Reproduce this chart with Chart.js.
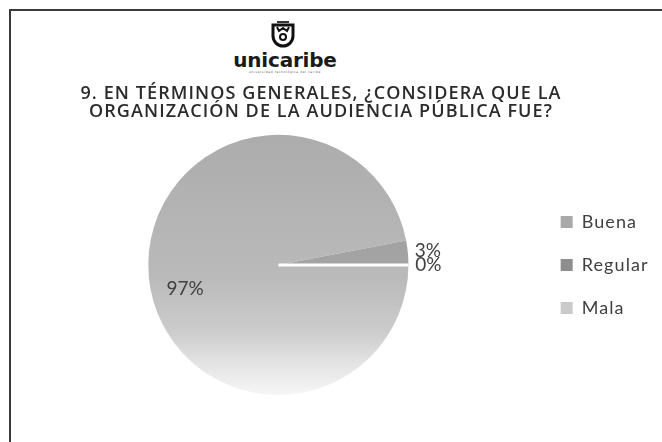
<!DOCTYPE html>
<html>
<head>
<meta charset="utf-8">
<script src="https://cdn.jsdelivr.net/npm/chart.js@4/dist/chart.umd.min.js"></script>
<style>
html,body{margin:0;padding:0;background:#fff;overflow:hidden;width:662px;height:442px;position:relative}
#frame{position:absolute;left:9px;top:9px;width:700px;height:500px;border:2px solid #3a3a3a;box-sizing:border-box}
#shield{position:absolute;left:270px;top:21px}
#brand{position:absolute;left:215px;top:50px;width:140px;text-align:center;font-family:"DejaVu Sans",sans-serif;font-weight:bold;font-size:20px;line-height:1;color:#1a1a1a;letter-spacing:-0.2px}
#brand .sub{display:block;font-size:3px;line-height:3px;letter-spacing:0.6px;color:#555;margin-top:1px;font-weight:normal}
#wrap{position:absolute;left:-9px;top:0;width:680px;height:442px}
</style>
</head>
<body>
<div id="frame"></div>
<svg id="shield" width="26" height="28" viewBox="0 0 26 28">
  <rect x="7" y="0" width="12" height="2" fill="#333"/>
  <path d="M3 4 H23 V15 A10 10 0 0 1 3 15 Z" fill="none" stroke="#111" stroke-width="3"/>
  <path d="M7 6 L9 10 L13 7 L17 10 L19 6" fill="none" stroke="#111" stroke-width="2"/>
  <circle cx="13" cy="16" r="3" fill="none" stroke="#111" stroke-width="2"/>
</svg>
<div id="brand">unicaribe<span class="sub">universidad tecnológica del caribe</span></div>
<div id="wrap"><canvas id="c" width="680" height="442"></canvas></div>
<script>
// ---- data ----
const categories = ['Buena', 'Regular', 'Mala'];
const values = [97, 3, 0];
const titleLines = ['9. EN TÉRMINOS GENERALES, ¿CONSIDERA QUE LA', 'ORGANIZACIÓN DE LA AUDIENCIA PÚBLICA FUE?'];
const legendColors = ['#a9a9a9', '#8e8e8e', '#cacaca'];

const total = values.reduce((a, b) => a + b, 0);

function sliceFill(ctx) {
  const chart = ctx.chart;
  const ca = chart.chartArea;
  const i = ctx.dataIndex;
  if (!ca) return legendColors[i];
  const g = chart.ctx.createLinearGradient(0, ca.top, 0, ca.bottom);
  if (i === 0) {
    g.addColorStop(0, '#acacac');
    g.addColorStop(0.55, '#bababa');
    g.addColorStop(0.75, '#cbcbcb');
    g.addColorStop(0.88, '#e4e4e4');
    g.addColorStop(1, '#f6f6f6');
  } else if (i === 1) {
    g.addColorStop(0, '#989898');
    g.addColorStop(1, '#b0b0b0');
  } else {
    g.addColorStop(0, '#d0d0d0');
    g.addColorStop(1, '#e0e0e0');
  }
  return g;
}

// slightly spaced lettering for the title and legend (as in the original)
const spacing = {
  id: 'spacing',
  beforeDraw(chart, args, opts) { chart.ctx.letterSpacing = opts.boxes; },
  beforeDatasetsDraw(chart) { chart.ctx.letterSpacing = '0px'; }
};

const pctLabels = {
  id: 'pctLabels',
  afterDatasetsDraw(chart, args, opts) {
    const meta = chart.getDatasetMeta(0);
    const ctx = chart.ctx;
    ctx.save();
    // zero-valued slices appear as a thin white separator
    meta.data.forEach((arc, i) => {
      if (values[i] !== 0) return;
      const p = arc.getProps(['x', 'y', 'startAngle', 'outerRadius'], true);
      ctx.strokeStyle = '#ffffff';
      ctx.lineWidth = 3;
      ctx.beginPath();
      ctx.moveTo(p.x, p.y);
      ctx.lineTo(p.x + Math.cos(p.startAngle) * p.outerRadius, p.y + Math.sin(p.startAngle) * p.outerRadius);
      ctx.stroke();
    });
    ctx.font = opts.font;
    ctx.fillStyle = opts.color;
    ctx.textAlign = 'center';
    ctx.textBaseline = 'middle';
    meta.data.forEach((arc, i) => {
      const p = arc.getProps(['x', 'y', 'startAngle', 'endAngle', 'outerRadius'], true);
      const mid = (p.startAngle + p.endAngle) / 2;
      const frac = values[i] / total;
      let r, dy = 0;
      if (frac > 0.5) { r = p.outerRadius * opts.insideFactor; dy = opts.insideShiftY; }
      else { r = p.outerRadius + opts.outsideGap; }
      ctx.fillText(Math.round(frac * 100) + '%', p.x + Math.cos(mid) * r, p.y + Math.sin(mid) * r + dy);
    });
    ctx.restore();
  }
};

new Chart(document.getElementById('c'), {
  type: 'pie',
  data: {
    labels: categories,
    datasets: [{
      data: values,
      backgroundColor: sliceFill,
      borderWidth: 0
    }]
  },
  options: {
    responsive: false,
    animation: false,
    rotation: 90,
    layout: { padding: { left: 0, right: 20, top: 0, bottom: 47 } },
    plugins: {
      tooltip: { enabled: false },
      title: {
        display: true,
        text: titleLines,
        color: '#2b2b2b',
        font: { family: 'Open Sans', size: 18, weight: '600', lineHeight: 1.05 },
        padding: { top: 84, bottom: 13 }
      },
      subtitle: {
        display: true,
        position: 'left',
        text: '',
        font: { size: 10, lineHeight: 1 },
        padding: { top: 10, bottom: 10 }
      },
      legend: {
        position: 'right',
        fullSize: false,
        labels: {
          boxWidth: 12,
          boxHeight: 12,
          padding: 25,
          color: '#404040',
          font: { family: 'Lato', size: 18 },
          generateLabels: () => categories.map((c, i) => ({
            text: c, fillStyle: legendColors[i], strokeStyle: legendColors[i],
            lineWidth: 0, hidden: false, index: i, fontColor: '#404040'
          }))
        }
      },
      spacing: { boxes: '1.1px' },
      pctLabels: { font: '19px Lato', color: '#404040', insideFactor: 0.72, insideShiftY: 15, outsideGap: 20 }
    }
  },
  plugins: [spacing, pctLabels]
});
</script>
</body>
</html>
